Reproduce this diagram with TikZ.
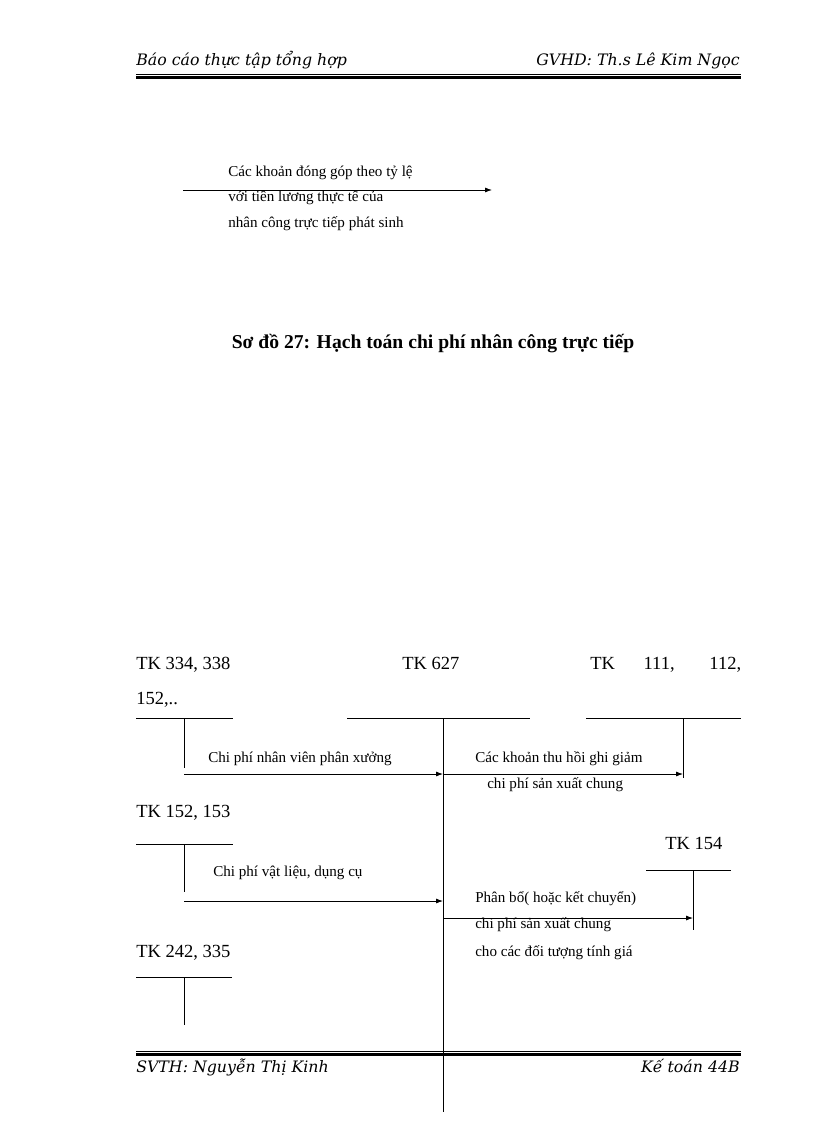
\documentclass[tikz,border=0pt]{standalone}
\usepackage{fontspec}
\setmainfont{Liberation Serif}
\newfontfamily\headfont{DejaVu Serif}
\usetikzlibrary{arrows.meta, positioning, calc}

\tikzset{
  lbl/.style={anchor=base west, inner sep=0pt, font=\fontsize{13.5}{15}\selectfont},
  small/.style={anchor=base west, inner sep=0pt, font=\fontsize{11}{12}\selectfont},
  hdr/.style={inner sep=0pt, font=\headfont\itshape\fontsize{11.5}{13}\selectfont},
  arr/.style={-{Latex[length=5pt,width=3.6pt]}, line width=0.6pt},
  tline/.style={line width=0.6pt}
}

\begin{document}
\begin{tikzpicture}[x=0.729pt, y=-0.729pt]
\useasboundingbox (0,0) rectangle (816,1123);

% header and footer
\node (head1) [hdr, anchor=base west] at (136,66) {Báo cáo thực tập tổng hợp};
\node (head2) [hdr, anchor=base east] at (740,66) {GVHD: Th.s Lê Kim Ngọc};
\draw[line width=0.5pt] (136,74) -- (741,74);
\draw[line width=1.6pt] (136,77.5) -- (741,77.5);
\draw[line width=0.5pt] (136,1051) -- (741,1051);
\draw[line width=1.6pt] (136,1054.5) -- (741,1054.5);
\node (foot1) [hdr, anchor=base west] at (136,1072) {SVTH: Nguyễn Thị Kinh};
\node (foot2) [hdr, anchor=base east] at (740,1072) {Kế toán 44B};

% leftover fragment
\coordinate (fragL) at (183,190);
\coordinate (fragR) at (492,190);
\draw[arr] (fragL) -- (fragR);
\node (frag1) [small] at (228,177) {Các khoản đóng góp theo tỷ lệ};
\node (frag2) [small] at (228,202) {với tiền lương thực tế của};
\node (frag3) [small] at (228,228) {nhân công trực tiếp phát sinh};

% title
\node (title) [inner sep=0pt, anchor=base, font=\bfseries\fontsize{14.3}{16}\selectfont] at (433,348)
  {Sơ đồ 27: Hạch toán chi phí nhân công trực tiếp};

% account names
\node (k334) [lbl] at (136,669) {TK 334, 338};
\node (k627) [lbl] at (402,669) {TK 627};
\node (k111) [lbl] at (590,669) {\makebox[110pt][s]{TK 111, 112,}};
\node (k152b) [lbl] at (136,704) {152,..};
\node (k152) [lbl] at (136,817) {TK 152, 153};
\node (k154) [lbl] at (665,849) {TK 154};
\node (k242) [lbl] at (136,957) {TK 242, 335};

% T accounts
\coordinate (s334) at (184,718);
\coordinate (s627) at (443,718);
\coordinate (s111) at (683,718);
\coordinate (s152) at (184,844);
\coordinate (s154) at (693,870);
\coordinate (s242) at (184,977);
\draw[tline] (136,718) -- (233,718) (s334) -- ++(0,50);
\draw[tline] (347,718) -- (530,718) (s627) -- ++(0,394);
\draw[tline] (586,718) -- (741,718) (s111) -- ++(0,60);
\draw[tline] (136,844) -- (233,844) (s152) -- ++(0,48);
\draw[tline] (646,870) -- (731,870) (s154) -- ++(0,60);
\draw[tline] (136,977) -- (232,977) (s242) -- ++(0,48);

% entries
\coordinate (row1) at (0,774);
\coordinate (row2) at (0,901);
\coordinate (row3) at (0,918);
\draw[arr] (s334 |- row1) -- (s627 |- row1);
\draw[arr] (s627 |- row1) -- (s111 |- row1);
\draw[arr] (s152 |- row2) -- (s627 |- row2);
\draw[arr] (s627 |- row3) -- (s154 |- row3);

\node (e1) [small] at (208,762) {Chi phí nhân viên phân xưởng};
\node (e2) [small] at (475,762) {Các khoản thu hồi ghi giảm};
\node (e2b) [small] at (487,788) {chi phí sản xuất chung};
\node (e3) [small] at (213,876) {Chi phí vật liệu, dụng cụ};
\node (e4) [small] at (475,902) {Phân bổ( hoặc kết chuyển)};
\node (e4b) [small] at (475,928) {chi phí sản xuất chung};
\node (e4c) [small] at (475,956) {cho các đối tượng tính giá};
\end{tikzpicture}
\end{document}
